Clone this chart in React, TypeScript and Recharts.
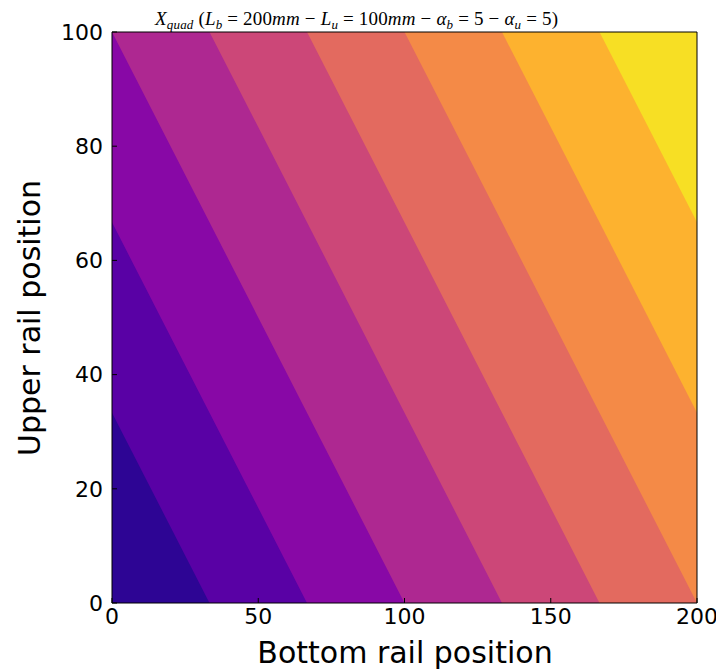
import React from 'react';
import { ComposedChart, Area, XAxis, YAxis } from 'recharts';

// Bottom rail position grid (x), where the contour edges change slope
const xs = [0, 33.33, 66.67, 100, 133.33, 166.67, 200];

// Upper edge (upper rail position) of each filled contour band, read at each x
const band1 = [33.33, 0, 0, 0, 0, 0, 0];
const band2 = [66.67, 33.33, 0, 0, 0, 0, 0];
const band3 = [100, 66.67, 33.33, 0, 0, 0, 0];
const band4 = [100, 100, 66.67, 33.33, 0, 0, 0];
const band5 = [100, 100, 100, 66.67, 33.33, 0, 0];
const band6 = [100, 100, 100, 100, 66.67, 33.33, 0];
const band7 = [100, 100, 100, 100, 100, 66.67, 33.33];
const band8 = [100, 100, 100, 100, 100, 100, 66.67];
const band9 = [100, 100, 100, 100, 100, 100, 100];

const bandColors = ['#2d0594', '#5901a5', '#8808a6', '#ae2891', '#cc4778', '#e36a5f', '#f48a47', '#fdb22f', '#f7df24'];

const xTicks = [0, 50, 100, 150, 200];
const yTicks = [0, 20, 40, 60, 80, 100];

const bands = [band1, band2, band3, band4, band5, band6, band7, band8, band9];
const data = xs.map((x, i) => {
  const row: Record<string, number> = { x };
  bands.forEach((b, k) => {
    row['b' + (k + 1)] = b[i];
  });
  return row;
});

const W = 716;
const H = 662;
const tickFont = { fontSize: 22, fill: '#000', fontFamily: 'DejaVu Sans' };
const frame = { stroke: '#000', strokeWidth: 1 };

export default function App() {
  const order = [9, 8, 7, 6, 5, 4, 3, 2, 1];
  return (
    <div style={{ width: W, height: H }}>
      <ComposedChart
        width={W}
        height={H}
        data={data}
        margin={{ top: 23, right: 26, left: 0, bottom: 0 }}
        style={{ fontFamily: 'DejaVu Sans' }}
      >
        {order.map((k) => (
          <Area
            key={k}
            type="linear"
            dataKey={'b' + k}
            fill={bandColors[k - 1]}
            fillOpacity={1}
            stroke="none"
            dot={false}
            activeDot={false}
            isAnimationActive={false}
            baseValue={0}
          />
        ))}
        <XAxis
          dataKey="x"
          type="number"
          domain={[0, 200]}
          ticks={xTicks}
          interval={0}
          height={67}
          tickSize={-5}
          tickMargin={10}
          tick={tickFont}
          axisLine={frame}
          tickLine={{ stroke: '#000' }}
          allowDataOverflow
        />
        <XAxis
          xAxisId="top"
          orientation="top"
          dataKey="x"
          type="number"
          domain={[0, 200]}
          ticks={xTicks}
          interval={0}
          height={1}
          tickSize={-5}
          tick={false}
          axisLine={frame}
          tickLine={{ stroke: '#000' }}
          allowDataOverflow
        />
        <YAxis
          type="number"
          domain={[0, 100]}
          ticks={yTicks}
          interval={0}
          width={104}
          tickSize={-5}
          tickMargin={14}
          tick={tickFont}
          axisLine={frame}
          tickLine={{ stroke: '#000' }}
          allowDataOverflow
        />
        <YAxis
          yAxisId="right"
          orientation="right"
          type="number"
          domain={[0, 100]}
          ticks={yTicks}
          interval={0}
          width={1}
          tickSize={-5}
          tick={false}
          axisLine={frame}
          tickLine={{ stroke: '#000' }}
          allowDataOverflow
        />
        <text x={397} y={655} textAnchor="middle" fontSize={30} fontFamily="DejaVu Sans" fill="#000">
          Bottom rail position
        </text>
        <text
          x={32}
          y={310}
          textAnchor="middle"
          fontSize={30}
          fontFamily="DejaVu Sans"
          fill="#000"
          transform="rotate(-90, 32, 310)"
        >
          Upper rail position
        </text>
        <text x={147} y={17} fontSize={19} fontFamily="Liberation Serif" fill="#000" textLength={403} lengthAdjust="spacing">
          <tspan fontStyle="italic">X</tspan>
          <tspan fontStyle="italic" fontSize={13} dy={4}>quad</tspan>
          <tspan dy={-4}>{' ('}</tspan>
          <tspan fontStyle="italic">L</tspan>
          <tspan fontStyle="italic" fontSize={13} dy={4}>b</tspan>
          <tspan dy={-4}>{' = 200'}</tspan>
          <tspan fontStyle="italic">mm</tspan>
          <tspan>{' \u2212 '}</tspan>
          <tspan fontStyle="italic">L</tspan>
          <tspan fontStyle="italic" fontSize={13} dy={4}>u</tspan>
          <tspan dy={-4}>{' = 100'}</tspan>
          <tspan fontStyle="italic">mm</tspan>
          <tspan>{' \u2212 '}</tspan>
          <tspan fontStyle="italic">{'\u03b1'}</tspan>
          <tspan fontStyle="italic" fontSize={13} dy={4}>b</tspan>
          <tspan dy={-4}>{' = 5 \u2212 '}</tspan>
          <tspan fontStyle="italic">{'\u03b1'}</tspan>
          <tspan fontStyle="italic" fontSize={13} dy={4}>u</tspan>
          <tspan dy={-4}>{' = 5)'}</tspan>
        </text>
      </ComposedChart>
    </div>
  );
}
